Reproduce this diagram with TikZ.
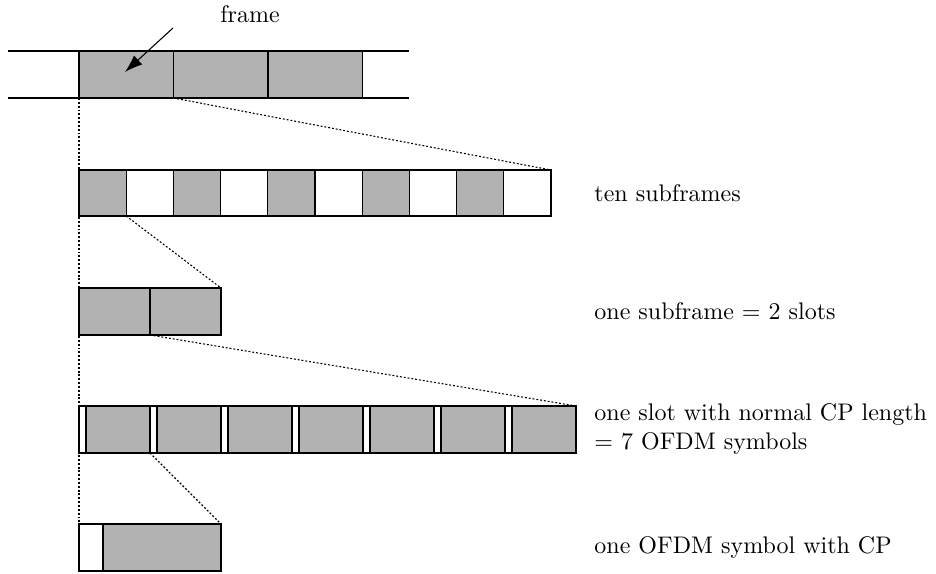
\documentclass[tikz,border=0pt]{standalone}
\usetikzlibrary{arrows.meta}
\def\pxl{0.4167pt}
\begin{document}
\begin{tikzpicture}[x=\pxl, y=-\pxl,
  cell/.style={draw, line width=0.45pt, rectangle, inner sep=0pt, outer sep=0pt, anchor=north west},
  full/.style={cell, fill=black!30},
  empty/.style={cell, fill=white},
  zoomline/.style={dash pattern=on 0.8pt off 0.8pt, line width=0.45pt},
  lbl/.style={anchor=west, align=left, inner sep=0pt, font=\normalsize}]
\useasboundingbox (0,0) rectangle (936,574);

% radio frame sequence
\coordinate (tl) at (8,51);  \coordinate (tr) at (409,51);
\coordinate (bl) at (8,98);  \coordinate (br) at (409,98);
\draw[line width=0.45pt] (tl) -- (tr) (bl) -- (br);
\foreach \i in {0,1,2}
  \node[full, minimum width=94.5*\pxl, minimum height=47*\pxl] (f\i) at (79+94.5*\i,51) {};
\node (fl) at (250,14) {frame};
\coordinate (fs) at (173,28);
\coordinate (fa) at (125,72);
\draw[-{Latex[length=2.6mm,width=1.8mm]}, line width=0.45pt] (fs) -- (fa);

% ten subframes
\foreach \i in {0,...,9}{
  \pgfmathtruncatemacro\odd{mod(\i,2)}
  \ifnum\odd=0 \def\st{full}\else\def\st{empty}\fi
  \node[\st, minimum width=47.2*\pxl, minimum height=46*\pxl] (s\i) at (79+47.2*\i,170) {};
}
\node[lbl] (ls) at (594,193) {ten subframes};

% one subframe = two slots
\foreach \i in {0,1}
  \node[full, minimum width=71*\pxl, minimum height=47*\pxl] (t\i) at (79+71*\i,288) {};
\node[lbl] (lt) at (594,311) {one subframe = 2 slots};

% one slot = seven OFDM symbols, each with its cyclic prefix
\foreach \i in {0,...,6}{
  \node[empty, minimum width=7*\pxl, minimum height=47*\pxl] (c\i) at (79+71*\i,406) {};
  \node[full, minimum width=64*\pxl, minimum height=47*\pxl] (d\i) at (86+71*\i,406) {};
}
\node[lbl] (lo) at (594,429) {one slot with normal CP length\\ = 7 OFDM symbols};

% one OFDM symbol with CP
\node[empty, minimum width=24*\pxl, minimum height=47*\pxl] (cp) at (79,524) {};
\node[full, minimum width=118*\pxl, minimum height=47*\pxl] (dp) at (103,524) {};
\node[lbl] (lp) at (594,548) {one OFDM symbol with CP};

% zoom guides
\draw[zoomline] (f0.south west) -- (cp.north west);
\draw[zoomline] (f0.south east) -- (s9.north east);
\draw[zoomline] (s0.south east) -- (t1.north east);
\draw[zoomline] (t0.south east) -- (d6.north east);
\draw[zoomline] (c1.south west) -- (dp.north east);
\end{tikzpicture}
\end{document}
